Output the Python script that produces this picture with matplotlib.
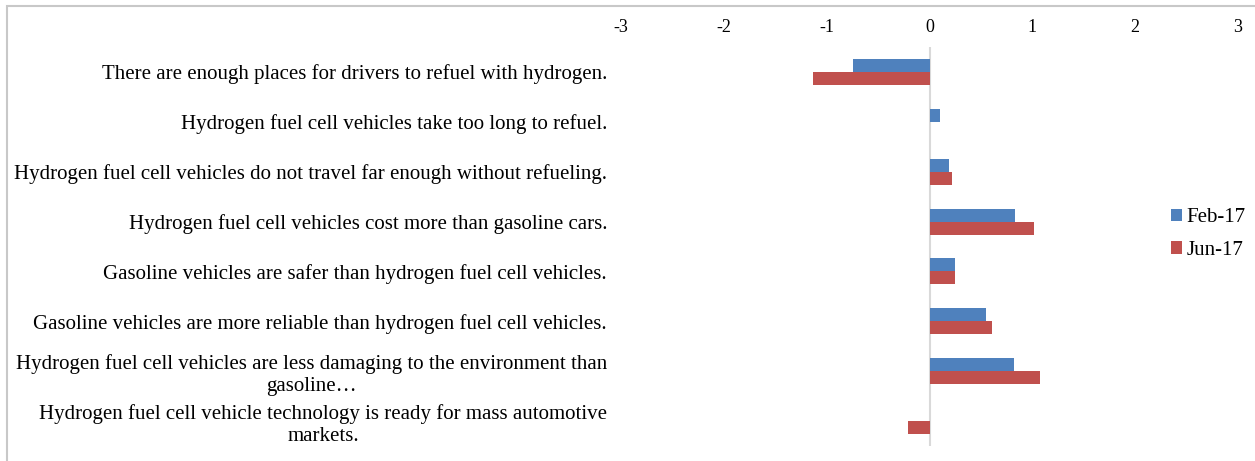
import numpy as np
import matplotlib
matplotlib.use('Agg')
import matplotlib.pyplot as plt
from matplotlib.patches import Rectangle

statements = [
    'There are enough places for drivers to refuel with hydrogen.',
    'Hydrogen fuel cell vehicles take too long to refuel.',
    'Hydrogen fuel cell vehicles do not travel far enough without refueling.',
    'Hydrogen fuel cell vehicles cost more than gasoline cars.',
    'Gasoline vehicles are safer than hydrogen fuel cell vehicles.',
    'Gasoline vehicles are more reliable than hydrogen fuel cell vehicles.',
    'Hydrogen fuel cell vehicles are less damaging to the environment than\ngasoline\u2026',
    'Hydrogen fuel cell vehicle technology is ready for mass automotive\nmarkets.',
]
feb17 = [-0.74, 0.10, 0.19, 0.83, 0.25, 0.55, 0.82, 0.0]
jun17 = [-1.13, 0.0, 0.22, 1.02, 0.25, 0.61, 1.07, -0.21]
x_ticks = [-3, -2, -1, 0, 1, 2, 3]

blue = '#4F81BD'
red = '#C0504D'
plt.rcParams['font.family'] = ['Liberation Serif', 'DejaVu Serif']

fig = plt.figure(figsize=(12.55, 4.61), dpi=100)
W, H = 1255, 461
ax = fig.add_axes([621 / W, 1 - 446 / H, (1238 - 621) / W, (446 - 47) / H])

y = np.arange(len(statements))
h = 0.26
ax.barh(y - h / 2, feb17, height=h, color=blue, label='Feb-17')
ax.barh(y + h / 2, jun17, height=h, color=red, label='Jun-17')

ax.set_xlim(-3, 3)
ax.set_ylim(len(statements) - 0.5, -0.5)
ax.axvline(0, color='#d9d9d9', lw=1.5, zorder=0)
ax.set_xticks(x_ticks)
ax.set_xticklabels([str(t) for t in x_ticks], fontsize=13)
ax.xaxis.tick_top()
ax.tick_params(axis='x', length=0, pad=8)
ax.set_yticks(y)
ax.set_yticklabels(statements, fontsize=15, multialignment='center',
                   linespacing=1.2)
ax.tick_params(axis='y', length=0, pad=10)
for s in ax.spines.values():
    s.set_visible(False)

fig.legend(loc='center left', bbox_to_anchor=(1152 / W, 1 - 234 / H),
           frameon=False, fontsize=15, handlelength=0.55, handleheight=0.55,
           handletextpad=0.2, labelspacing=0.65)

fig.patches.append(Rectangle((7 / W, -0.1), 1.2, 1 - 6 / H + 0.1,
                             transform=fig.transFigure, fill=False,
                             edgecolor='#c8c8c8', lw=1.5))

fig.savefig('out.png', dpi=100)
